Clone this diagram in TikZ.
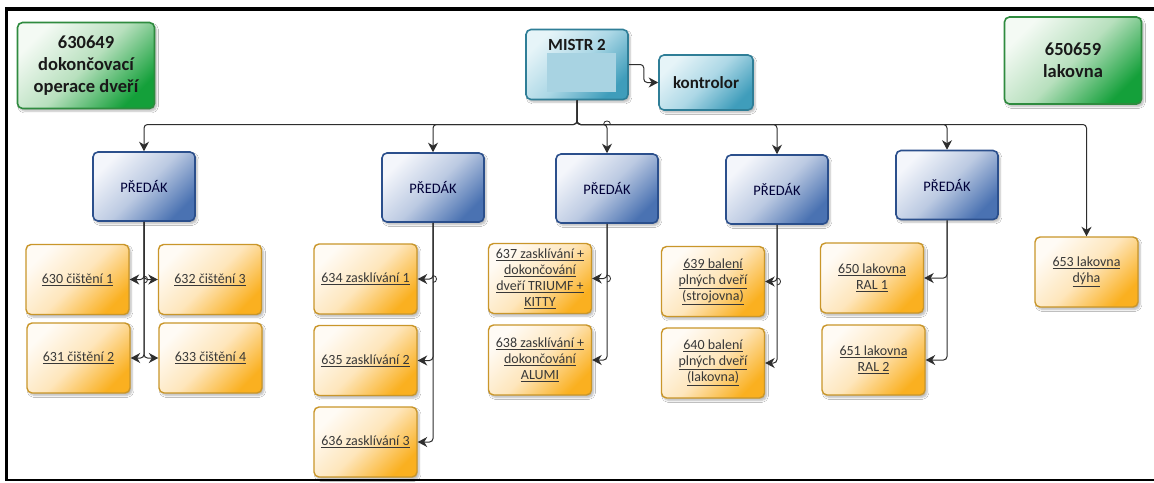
\documentclass[tikz,border=0pt]{standalone}
\usepackage{fontspec}
\setmainfont{Carlito}
\usetikzlibrary{arrows.meta,shadows.blur}

\definecolor{grnTop}{HTML}{F4FAF4}
\definecolor{grnMid}{HTML}{B8E0BE}
\definecolor{grnBot}{HTML}{14A03A}
\definecolor{grnLine}{HTML}{2F8B3F}
\definecolor{tealTop}{HTML}{E6F4F8}
\definecolor{tealMid}{HTML}{ADD8E6}
\definecolor{tealBot}{HTML}{3F9DBB}
\definecolor{tealLine}{HTML}{2F7E97}
\definecolor{tealFill}{HTML}{A8D3E2}
\definecolor{bluTop}{HTML}{F4F6FB}
\definecolor{bluMid}{HTML}{BCCAE2}
\definecolor{bluBot}{HTML}{4A72B2}
\definecolor{bluLine}{HTML}{2B4F8C}
\definecolor{orgTop}{HTML}{FFFBF5}
\definecolor{orgMid}{HTML}{FEE6BC}
\definecolor{orgBot}{HTML}{FAB020}
\definecolor{orgLine}{HTML}{C9962A}
\definecolor{txtDark}{HTML}{383838}
\definecolor{lineDark}{HTML}{2E2E2E}

\newcommand\ulx[1]{\underline{#1}}

\tikzset{
  x=1pt, y=-1pt,
  box/.style={rounded corners=5pt, align=center, inner sep=0pt,
    blur shadow={shadow xshift=2pt, shadow yshift=-2.5pt, shadow blur steps=6,
      shadow opacity=28}},
  greenbox/.style={box, draw=grnLine, line width=1.6pt,
    top color=grnTop, bottom color=grnBot, middle color=grnMid, shading angle=45,
    minimum width=137pt, minimum height=86pt,
    font=\fontsize{18.5}{22}\selectfont\bfseries, text=black!90},
  tealbox/.style={box, draw=tealLine, line width=1.6pt,
    top color=tealTop, bottom color=tealBot, middle color=tealMid, shading angle=45},
  chiefbox/.style={box, draw=bluLine, line width=1.6pt,
    top color=bluTop, bottom color=bluBot, middle color=bluMid, shading angle=45,
    minimum width=102pt, minimum height=69pt,
    font=\fontsize{14.5}{17}\selectfont, text=black!78!blue},
  unitbox/.style={box, draw=orgLine, line width=1.4pt,
    top color=orgTop, bottom color=orgBot, middle color=orgMid, shading angle=45,
    minimum width=103pt, minimum height=70pt,
    font=\fontsize{14}{16}\selectfont, text=txtDark},
  conn/.style={draw=lineDark, line width=1pt, rounded corners=3.5pt},
  arr/.style={conn, -{Stealth[length=9.5pt,width=10pt,inset=3pt]}},
  hop/.style={draw=lineDark, line width=0.8pt}
}

\begin{document}
\begin{tikzpicture}
\useasboundingbox (0,0) rectangle (1154,482);
\fill[white] (0,0) rectangle (1154,482);

% outer frame
\draw[line width=3.6pt] (1154,9) -- (6.5,9) -- (6.5,479);
\draw[line width=2pt] (5,479.5) -- (1154,479.5);

% department boxes
\node[greenbox] (dep1) at (86,65.5) {630649\\dokončovací\\operace dveří};
\node[greenbox, minimum height=87pt] (dep2) at (1073,60.5) {650659\\lakovna};

% master and inspector
\node[tealbox, minimum width=102pt, minimum height=70pt] (mistr) at (577,64.5) {};
\node[font=\fontsize{17}{19}\selectfont\bfseries, text=black!90] (mistrlbl) at (577,45) {MISTR 2};
\node[fill=tealFill, minimum width=69pt, minimum height=39pt, inner sep=0pt] (mistrpic) at (581.5,72.5) {};
\node[tealbox, minimum width=94pt, minimum height=55pt,
      font=\fontsize{17}{19}\selectfont\bfseries, text=black!90] (kontrolor) at (706,82.5) {kontrolor};

% foremen
\node[chiefbox] (p1) at (144,186.5) {PŘEDÁK};
\node[chiefbox] (p2) at (433,187.5) {PŘEDÁK};
\node[chiefbox] (p3) at (607,188.5) {PŘEDÁK};
\node[chiefbox] (p4) at (777,189.5) {PŘEDÁK};
\node[chiefbox] (p5) at (947,185)   {PŘEDÁK};

% work units
\node[unitbox] (u630) at (77.5,279.5) {\ulx{630 čištění 1}};
\node[unitbox] (u632) at (210,279.5)  {\ulx{632 čištění 3}};
\node[unitbox] (u631) at (78.5,358)   {\ulx{631 čištění 2}};
\node[unitbox] (u633) at (210.5,358)  {\ulx{633 čištění 4}};

\node[unitbox] (u634) at (365.5,279)   {\ulx{634 zasklívání 1}};
\node[unitbox] (u635) at (365.5,360.5) {\ulx{635 zasklívání 2}};
\node[unitbox] (u636) at (365.5,442)   {\ulx{636 zasklívání 3}};

\node[unitbox] (u637) at (540,278.5) {\ulx{637 zasklívání +}\\\ulx{dokončování}\\\ulx{dveří TRIUMF +}\\\ulx{KITTY}};
\node[unitbox] (u638) at (540,360)   {\ulx{638 zasklívání +}\\\ulx{dokončování}\\\ulx{ALUMI}};

\node[unitbox] (u639) at (713,281.5) {\ulx{639 balení}\\\ulx{plných dveří}\\\ulx{(strojovna)}};
\node[unitbox] (u640) at (713,363)   {\ulx{640 balení}\\\ulx{plných dveří}\\\ulx{(lakovna)}};

\node[unitbox] (u650) at (872,278)   {\ulx{650 lakovna}\\\ulx{RAL 1}};
\node[unitbox] (u651) at (873.5,360) {\ulx{651 lakovna}\\\ulx{RAL 2}};

\node[unitbox] (u653) at (1086.5,272) {\ulx{653 lakovna}\\\ulx{dýha}};

% master to inspector
\draw[arr] (mistr.east) -- ++(15,0) |- (kontrolor.west);

% distribution bus
\coordinate (bus) at (0,124.5);
\draw[arr] (mistr.south) -- (mistr.south |- bus) -| (p1.north);
\draw[arr] (mistr.south) -- (mistr.south |- bus) -| (p2.north);
\draw[arr] (mistr.south) -- (mistr.south |- bus) -| (p3.north);
\draw[arr] (mistr.south) -- (mistr.south |- bus) -| (p4.north);
\draw[arr] (mistr.south) -- (mistr.south |- bus) -| (p5.north);
\draw[arr] (mistr.south) -- (mistr.south |- bus) -| (u653.north);
\draw[hop] (p3.north |- bus) ++(-3.5,0) .. controls +(0,-4.7) and +(0,-4.7) .. +(7,0);

% foreman 1 branches
\draw[arr] (p1.south) |- (u630.east);
\draw[arr] (p1.south) |- (u632.west);
\draw[arr] (p1.south) |- (u631.east);
\draw[arr] (p1.south) |- (u633.west);
\draw[hop] (p1.south |- u630.east) ++(0,-3.5) .. controls +(4.7,0) and +(4.7,0) .. +(0,7);

% foreman 2 branches
\draw[arr] (p2.south) |- (u634.east);
\draw[arr] (p2.south) |- (u635.east);
\draw[arr] (p2.south) |- (u636.east);
\draw[hop] (p2.south |- u634.east) ++(0,-3.5) .. controls +(4.7,0) and +(4.7,0) .. +(0,7);

% foreman 3 branches
\draw[arr] (p3.south) |- (u637.east);
\draw[arr] (p3.south) |- (u638.east);
\draw[hop] (p3.south |- u637.east) ++(0,-3.5) .. controls +(4.7,0) and +(4.7,0) .. +(0,7);

% foreman 4 branches
\draw[arr] (p4.south) |- (u639.east);
\draw[arr] (p4.south) |- (u640.east);
\draw[hop] (p4.south |- u639.east) ++(0,-3.5) .. controls +(4.7,0) and +(4.7,0) .. +(0,7);

% foreman 5 branches
\draw[arr] (p5.south) |- (u650.east);
\draw[arr] (p5.south) |- (u651.east);
\end{tikzpicture}
\end{document}
